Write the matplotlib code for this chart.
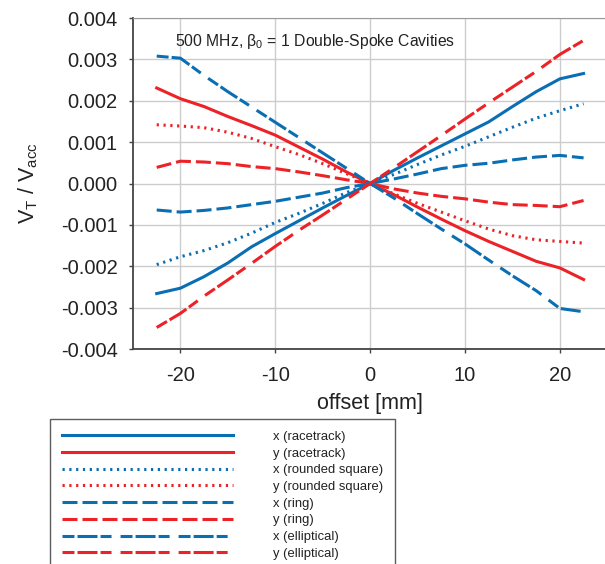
import matplotlib
matplotlib.use("Agg")
import matplotlib.pyplot as plt
from matplotlib.ticker import FormatStrFormatter, MultipleLocator

plt.rcParams['font.family'] = ['Liberation Sans', 'DejaVu Sans']
plt.rcParams['mathtext.fontset'] = 'custom'
plt.rcParams['mathtext.rm'] = 'Liberation Sans'
plt.rcParams['mathtext.it'] = 'Liberation Sans:italic'
plt.rcParams['axes.unicode_minus'] = False
plt.rcParams['lines.scale_dashes'] = False

# transverse voltage kick vs. offset, step 2.5 mm
offset = [-22.5, -20, -17.5, -15, -12.5, -10, -7.5, -5, -2.5, 0,
          2.5, 5, 7.5, 10, 12.5, 15, 17.5, 20, 22.5]

x_racetrack = [-2.66e-3, -2.53e-3, -2.25e-3, -1.92e-3, -1.53e-3, -1.21e-3, -0.90e-3, -0.59e-3, -0.29e-3, 0,
               0.32e-3, 0.62e-3, 0.91e-3, 1.20e-3, 1.49e-3, 1.86e-3, 2.22e-3, 2.53e-3, 2.66e-3]
y_racetrack = [2.31e-3, 2.05e-3, 1.86e-3, 1.62e-3, 1.40e-3, 1.17e-3, 0.88e-3, 0.59e-3, 0.28e-3, 0,
               -0.27e-3, -0.57e-3, -0.86e-3, -1.14e-3, -1.40e-3, -1.64e-3, -1.88e-3, -2.04e-3, -2.32e-3]
x_rounded = [-1.96e-3, -1.77e-3, -1.62e-3, -1.43e-3, -1.20e-3, -0.94e-3, -0.72e-3, -0.48e-3, -0.22e-3, 0,
             0.22e-3, 0.46e-3, 0.69e-3, 0.90e-3, 1.13e-3, 1.36e-3, 1.58e-3, 1.76e-3, 1.93e-3]
y_rounded = [1.42e-3, 1.39e-3, 1.35e-3, 1.24e-3, 1.09e-3, 0.89e-3, 0.70e-3, 0.48e-3, 0.24e-3, 0,
             -0.25e-3, -0.48e-3, -0.69e-3, -0.90e-3, -1.10e-3, -1.26e-3, -1.36e-3, -1.40e-3, -1.44e-3]
x_ring = [-0.64e-3, -0.69e-3, -0.65e-3, -0.59e-3, -0.51e-3, -0.43e-3, -0.33e-3, -0.23e-3, -0.10e-3, 0,
          0.11e-3, 0.23e-3, 0.36e-3, 0.44e-3, 0.49e-3, 0.57e-3, 0.64e-3, 0.68e-3, 0.62e-3]
y_ring = [0.39e-3, 0.54e-3, 0.52e-3, 0.48e-3, 0.41e-3, 0.36e-3, 0.28e-3, 0.19e-3, 0.09e-3, 0,
          -0.13e-3, -0.23e-3, -0.31e-3, -0.37e-3, -0.45e-3, -0.51e-3, -0.53e-3, -0.56e-3, -0.41e-3]
x_elliptical = [3.08e-3, 3.03e-3, 2.61e-3, 2.22e-3, 1.85e-3, 1.48e-3, 1.11e-3, 0.74e-3, 0.37e-3, 0,
                -0.35e-3, -0.73e-3, -1.10e-3, -1.46e-3, -1.85e-3, -2.23e-3, -2.59e-3, -3.02e-3, -3.10e-3]
y_elliptical = [-3.48e-3, -3.14e-3, -2.72e-3, -2.33e-3, -1.93e-3, -1.52e-3, -1.13e-3, -0.76e-3, -0.38e-3, 0,
                0.38e-3, 0.77e-3, 1.16e-3, 1.56e-3, 1.95e-3, 2.33e-3, 2.71e-3, 3.12e-3, 3.46e-3]

blue = '#0a6eb3'
red = '#ec2227'
solid = '-'
dotted = (0, (1.6, 3.3))
ring = (0, (10.8, 3.6))
ellip = (0, (8.6, 2.2, 14.4, 2.2, 7.9, 6.5))

series = [
    (x_racetrack, blue, solid, 'x (racetrack)'),
    (y_racetrack, red, solid, 'y (racetrack)'),
    (x_rounded, blue, dotted, 'x (rounded square)'),
    (y_rounded, red, dotted, 'y (rounded square)'),
    (x_ring, blue, ring, 'x (ring)'),
    (y_ring, red, ring, 'y (ring)'),
    (x_elliptical, blue, ellip, 'x (elliptical)'),
    (y_elliptical, red, ellip, 'y (elliptical)'),
]

fig = plt.figure(figsize=(6.05, 5.64), dpi=100)
ax = fig.add_axes([0.2198, 0.3812, 0.784, 0.5868])

for vals, c, ls, lab in series:
    ax.plot(offset, vals, color=c, linestyle=ls, linewidth=2.2, label=lab)

ax.set_xlim(-25, 25)
ax.set_ylim(-0.004, 0.004)
ax.xaxis.set_major_locator(MultipleLocator(10))
ax.yaxis.set_major_locator(MultipleLocator(0.001))
ax.yaxis.set_major_formatter(FormatStrFormatter('%.3f'))
ax.grid(True, color='#cccccc', linewidth=1.0)
ax.set_axisbelow(True)

for s in ['left', 'bottom']:
    ax.spines[s].set_color('#444444')
    ax.spines[s].set_linewidth(1.3)
ax.spines['top'].set_color('#999999')
ax.spines['right'].set_visible(False)
ax.tick_params(direction='out', length=3, width=1, color='#444444',
               labelsize=14.5, labelcolor='#222222')
ax.tick_params(axis='x', pad=9)
ax.tick_params(axis='y', pad=8)

ax.set_xlabel('offset [mm]', fontsize=15.5, color='#222222', labelpad=6)
ax.set_ylabel(r'V$_\mathrm{T}$ / V$_\mathrm{acc}$', fontsize=15.5, color='#222222')
ax.yaxis.set_label_coords(-0.196, 0.5)

ax.text(0.384, 0.916, r'500 MHz, β$_0$ = 1 Double-Spoke Cavities',
        transform=ax.transAxes, ha='center', va='baseline', fontsize=11.3, color='#222222')

# legend box runs off the bottom edge of the figure
leg = fig.legend(loc='upper left', bbox_to_anchor=(50 / 605, 1 - 419 / 564),
                 fontsize=9.4, handlelength=13.1, handletextpad=3.1,
                 labelspacing=0.35, borderpad=0.9, borderaxespad=0,
                 fancybox=False, frameon=True)
leg.get_frame().set_edgecolor('#333333')
leg.get_frame().set_linewidth(1.0)
for t in leg.get_texts():
    t.set_color('#222222')

fig.savefig('out.png', dpi=100)
